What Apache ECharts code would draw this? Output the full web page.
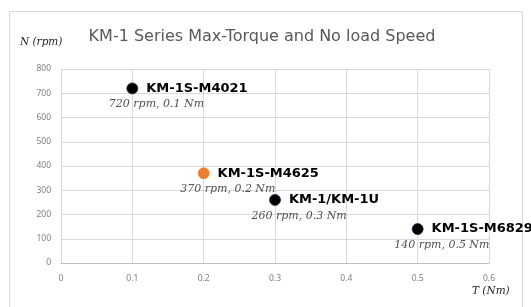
<!DOCTYPE html>
<html><head><meta charset="utf-8">
<script src="https://cdn.jsdelivr.net/npm/echarts@6/dist/echarts.min.js"></script>
<style>html,body{margin:0;padding:0;background:#fff}#c{width:531px;height:307px}</style>
</head><body><div id="c"></div>
<script>
const names = ['KM-1S-M4021', 'KM-1S-M4625', 'KM-1/KM-1U', 'KM-1S-M6829'];
const torque = [0.1, 0.2, 0.3, 0.5];
const speed = [720, 370, 260, 140];
const colors = ['#000000', '#ED7D31', '#000000', '#000000'];
const subLabels = ['720 rpm, 0.1 Nm', '370 rpm, 0.2 Nm', '260 rpm, 0.3 Nm', '140 rpm, 0.5 Nm'];
const xTicks = [0, 0.1, 0.2, 0.3, 0.4, 0.5, 0.6];
const yTicks = [0, 100, 200, 300, 400, 500, 600, 700, 800];

const chart = echarts.init(document.getElementById('c'));
const pts = torque.map((t, i) => ({ value: [t, speed[i]], name: names[i], itemStyle: { color: colors[i], borderColor: i === 1 ? colors[i] : '#1f2a44' } }));
const subPts = torque.map((t, i) => ({ value: [t, speed[i]], name: subLabels[i] }));
chart.setOption({
  animation: false,
  graphic: [
    { type: 'rect', shape: { x: 9.5, y: 11.5, width: 513, height: 300 }, style: { fill: 'none', stroke: '#d9d9d9', lineWidth: 1 }, silent: true },
    { type: 'text', left: 20, top: 37, style: { text: 'N (rpm)', font: 'italic 10.5px "DejaVu Serif"', fill: '#262626' } },
    { type: 'text', left: 472, top: 286, style: { text: 'T (Nm)', font: 'italic 10.5px "DejaVu Serif"', fill: '#262626' } }
  ],
  title: {
    text: 'KM-1 Series Max-Torque and No load Speed',
    left: 257, top: 24, textAlign: 'center',
    textStyle: { fontFamily: 'DejaVu Sans', fontSize: 16, fontWeight: 'normal', color: '#595959' }
  },
  grid: { left: 61, right: 42, top: 69, bottom: 44, containLabel: false },
  xAxis: {
    type: 'value', min: 0, max: 0.6, interval: 0.1,
    axisLine: { show: true, lineStyle: { color: '#bfbfbf' } },
    axisTick: { show: false },
    splitLine: { show: true, lineStyle: { color: '#d9d9d9' } },
    axisLabel: { color: '#808080', fontSize: 8.5, fontFamily: 'Noto Sans', margin: 11,
      formatter: v => { const m = xTicks.find(t => Math.abs(t - v) < 1e-9); return m === undefined ? '' : String(m); } }
  },
  yAxis: {
    type: 'value', min: 0, max: 800, interval: 100,
    axisLine: { show: false },
    axisTick: { show: false },
    splitLine: { show: true, lineStyle: { color: '#d9d9d9' } },
    axisLabel: { color: '#808080', fontSize: 8.5, fontFamily: 'Noto Sans', margin: 10,
      formatter: v => yTicks.includes(v) ? String(v) : '' }
  },
  series: [
    {
      type: 'scatter', data: pts, symbolSize: 11,
      itemStyle: { opacity: 1, borderWidth: 0.8 },
      label: { show: true, position: 'right', distance: 8, formatter: p => p.name,
        fontFamily: 'DejaVu Sans', fontWeight: 'bold', fontSize: 13, color: '#000' },
      emphasis: { disabled: true },
      z: 3
    },
    {
      type: 'scatter', data: subPts, symbolSize: 1, itemStyle: { color: 'rgba(0,0,0,0)' },
      label: { show: true, position: [-23, 11], formatter: p => p.name,
        fontFamily: 'DejaVu Serif', fontStyle: 'italic', fontSize: 11, color: '#262626' },
      emphasis: { disabled: true },
      z: 2
    }
  ]
});
</script></body></html>
